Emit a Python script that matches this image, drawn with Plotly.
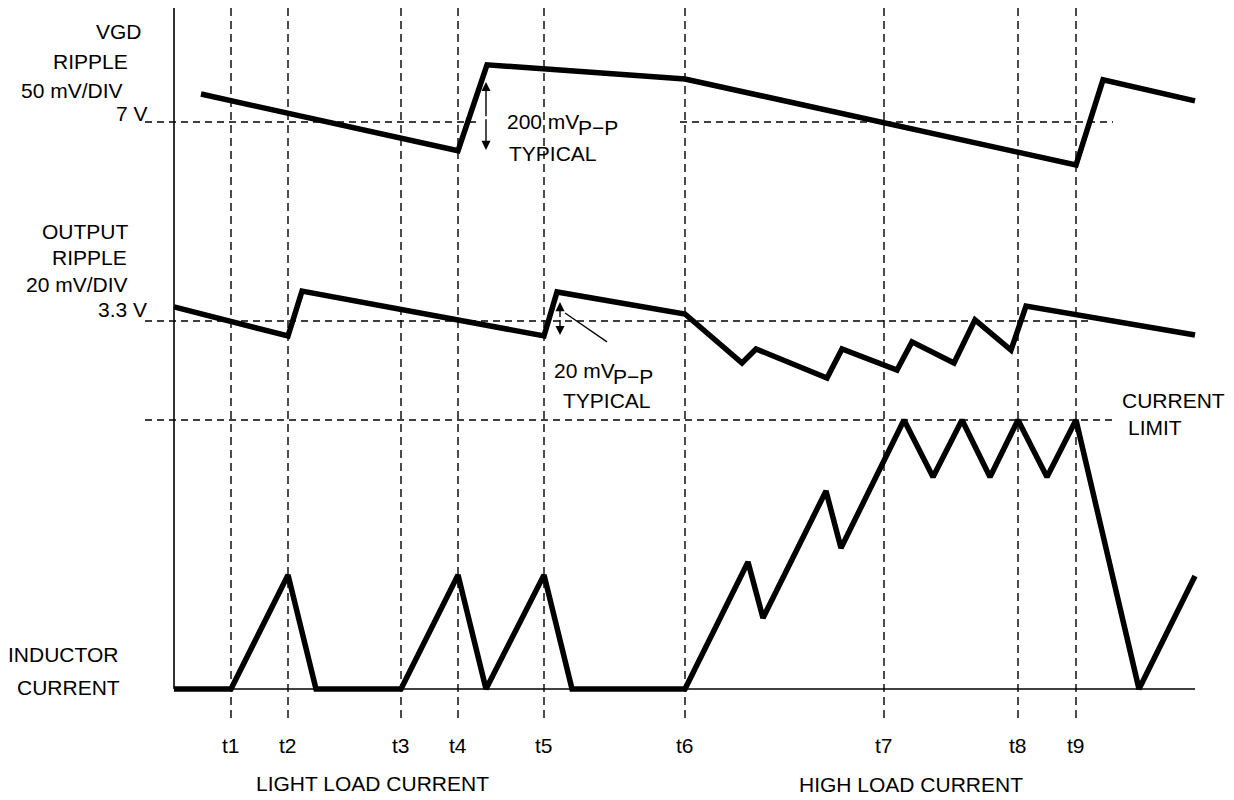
import plotly.graph_objects as go

# ---------------- data (arbitrary time units) ----------------
marker_labels = ["t1", "t2", "t3", "t4", "t5", "t6", "t7", "t8", "t9"]
marker_times = [5.7, 11.4, 22.7, 28.4, 37.0, 51.1, 71.0, 84.4, 90.2]

vgd_nominal = 7.0          # V
vgd_time = [2.7, 28.4, 31.3, 51.1, 90.2, 92.9, 102.1]
vgd_volts = [7.065, 6.933, 7.133, 7.100, 6.900, 7.098, 7.049]

out_nominal = 3.3          # V
out_time = [0.0, 11.4, 12.8, 37.0, 38.3, 51.1, 56.8, 58.2, 65.3, 66.8,
            72.3, 73.8, 78.0, 80.1, 83.7, 85.2, 102.1]
out_volts = [3.3064, 3.2932, 3.3136, 3.2932, 3.3132, 3.3032, 3.2809, 3.2873,
             3.2741, 3.2873, 3.2777, 3.2905, 3.2809, 3.3005, 3.2868, 3.3068,
             3.2936]

current_limit = 1.0        # normalised inductor current
ind_time = [0.0, 5.7, 11.4, 14.2, 22.7, 28.4, 31.2, 37.0, 39.8, 51.1, 57.4,
            58.9, 65.2, 66.7, 73.0, 75.9, 78.8, 81.6, 84.4, 87.3, 90.2, 96.5,
            102.1]
ind_amps = [0, 0, 0.424, 0, 0, 0.424, 0, 0.424, 0, 0, 0.472, 0.264, 0.736,
            0.524, 1.0, 0.788, 1.0, 0.788, 1.0, 0.788, 1.0, 0, 0.420]

# ---------------- layout helpers ----------------
PAGE_W, PAGE_H = 1234, 800
OFF = 8                      # default page body margin
W, H = PAGE_W - OFF, PAGE_H - OFF
FONT = "Liberation Sans, Arial, sans-serif"
FS = 21
PX_PER_T = 10.0
T0_PX = 174
X_MIN = (OFF - T0_PX) / PX_PER_T
X_MAX = X_MIN + W / PX_PER_T


def axis_range(ref_val, ref_px, per_px):
    rp = ref_px - OFF
    return [ref_val - (H - rp) * per_px, ref_val + rp * per_px]


def paper(px, py):
    return (px - OFF) / W, 1 - (py - OFF) / H


def py_paper(py):
    return 1 - (py - OFF) / H


fig = go.Figure()
wave = dict(color="black", width=5.5)
fig.add_trace(go.Scatter(x=ind_time, y=ind_amps, mode="lines", line=wave,
                         xaxis="x", yaxis="y", hoverinfo="skip"))
fig.add_trace(go.Scatter(x=vgd_time, y=vgd_volts, mode="lines", line=wave,
                         xaxis="x", yaxis="y2", hoverinfo="skip"))
fig.add_trace(go.Scatter(x=out_time, y=out_volts, mode="lines", line=wave,
                         xaxis="x", yaxis="y3", hoverinfo="skip"))

shapes = []
t0 = ind_time[0]
t_end = ind_time[-1]
# vertical dashed time markers
for t in marker_times:
    shapes.append(dict(type="line", xref="x", yref="paper", x0=t, x1=t,
                       y0=py_paper(718), y1=py_paper(8),
                       line=dict(color="black", width=1.4, dash="8px,5px")))
# axis line and baseline
shapes.append(dict(type="line", xref="x", yref="paper", x0=t0, x1=t0,
                   y0=py_paper(689), y1=py_paper(8),
                   line=dict(color="black", width=1.6)))
shapes.append(dict(type="line", xref="x", yref="y", x0=t0, x1=t_end,
                   y0=0, y1=0, line=dict(color="black", width=1.3)))
# horizontal dashed references
hd = dict(color="black", width=1.4, dash="7px,5px")
shapes.append(dict(type="line", xref="x", yref="y2", x0=-2.9, x1=30.6,
                   y0=vgd_nominal, y1=vgd_nominal, line=hd))
shapes.append(dict(type="line", xref="x", yref="y2", x0=50.6, x1=93.9,
                   y0=vgd_nominal, y1=vgd_nominal, line=hd))
shapes.append(dict(type="line", xref="x", yref="y3", x0=-2.9, x1=91.6,
                   y0=out_nominal, y1=out_nominal, line=hd))
shapes.append(dict(type="line", xref="x", yref="y", x0=-2.9, x1=93.8,
                   y0=current_limit, y1=current_limit, line=hd))
# leader line for output ripple note
shapes.append(dict(type="line", xref="x", yref="y3", x0=39.1, x1=43.3,
                   y0=3.3036, y1=3.2905, line=dict(color="black", width=1.3)))

annotations = []


def label(text, px, py, anchor="center"):
    x, y = paper(px, py)
    annotations.append(dict(text=text, x=x, y=y, xref="paper", yref="paper",
                            xanchor=anchor, yanchor="middle", showarrow=False,
                            font=dict(family=FONT, size=FS, color="black")))


label("VGD", 119, 31)
label("RIPPLE", 90, 62)
label("50 mV/DIV", 72, 90)
label("7 V", 132, 113)
label("OUTPUT", 85, 231)
label("RIPPLE", 89, 258)
label("20 mV/DIV", 77, 285)
label("3.3 V", 122, 310)
label("INDUCTOR", 63, 654)
label("CURRENT", 68, 687)
label("200 mV", 505, 122, "left")
label("P\u2212P", 576, 128, "left")
label("TYPICAL", 507, 153, "left")
label("20 mV", 552, 370, "left")
label("P\u2212P", 611, 376, "left")
label("TYPICAL", 561, 400, "left")
label("CURRENT", 1120, 400, "left")
label("LIMIT", 1126, 427, "left")
label("LIGHT LOAD CURRENT", 373, 783)
label("HIGH LOAD CURRENT", 911, 784)
for name, t in zip(marker_labels, marker_times):
    annotations.append(dict(text=name, x=t, y=py_paper(745), xref="x",
                            yref="paper", xanchor="center", yanchor="middle",
                            showarrow=False,
                            font=dict(family=FONT, size=FS, color="black")))


def arrow(x, y_head, y_tail, yref):
    annotations.append(dict(text="", x=x, y=y_head, ax=x, ay=y_tail,
                            xref="x", yref=yref, axref="x", ayref=yref,
                            showarrow=True, arrowhead=2, arrowsize=1.3,
                            arrowwidth=1.4, arrowcolor="black", standoff=0,
                            startstandoff=0))


arrow(31.2, 7.093, 7.01, "y2")
arrow(31.2, 6.935, 7.01, "y2")
arrow(38.6, 3.3086, 3.3011, "y3")
arrow(38.6, 3.2936, 3.3011, "y3")

hidden = dict(visible=False, showgrid=False, zeroline=False, fixedrange=True)
fig.update_layout(
    width=W, height=H, autosize=False,
    margin=dict(l=0, r=0, t=0, b=0),
    paper_bgcolor="white", plot_bgcolor="white",
    showlegend=False,
    xaxis=dict(range=[X_MIN, X_MAX], domain=[0, 1], **hidden),
    yaxis=dict(range=axis_range(0.0, 689, 1 / 269), domain=[0, 1], **hidden),
    yaxis2=dict(range=axis_range(vgd_nominal, 122, 0.2 / 86),
                overlaying="y", **hidden),
    yaxis3=dict(range=axis_range(out_nominal, 321, 0.020 / 44),
                overlaying="y", **hidden),
    shapes=shapes,
    annotations=annotations,
)

fig.write_html("out.html", config={"displayModeBar": False})
